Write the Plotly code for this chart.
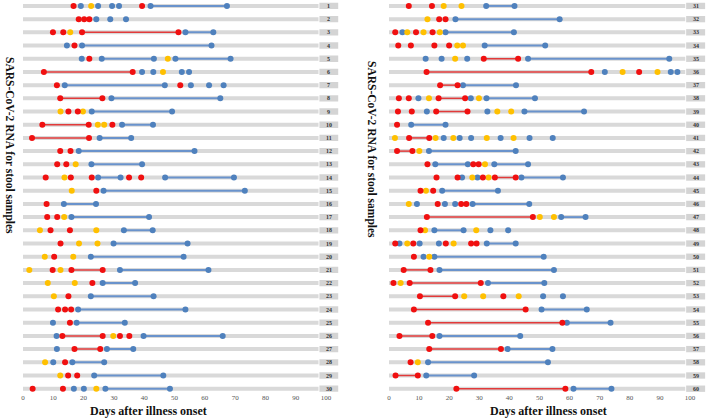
import plotly.graph_objects as go

# ---- data: per patient (1..60) ----
RED = [
    [16.7, 39.3], [18.4, 20.2, 21.9], [9.9, 13.3, 19.5, 51.3], [17.0], [21.9],
    [6.9, 36.2], [11.2, 51.9], [12.3, 26.2], [15.0, 18.1], [6.4, 21.7, 29.5],
    [3.0, 21.8], [12.3, 15.7], [11.3, 14.3], [7.5, 15.8, 22.7, 35.0, 39.0], [24.2],
    [7.8], [8.0, 11.3], [9.1, 15.5], [12.4], [10.3],
    [9.8, 16.0, 26.3], [22.9], [15.0], [11.6, 13.9, 15.9], [15.5],
    [13.0, 26.3, 32.0, 35.1], [17.0, 25.5], [13.9], [14.9, 17.9], [3.2, 13.2],
    [6.6, 14.3], [16.7, 18.8], [2.1, 9.0, 14.5], [3.1, 7.3, 15.1, 20.0], [31.5, 42.9],
    [12.5, 67.2, 83.1], [17.0, 22.8], [3.3, 6.6, 16.5, 25.3], [3.0, 7.6, 15.7, 26.1], [2.7],
    [6.7, 13.4], [2.7, 7.8], [12.8, 28.0, 29.8], [15.8, 22.8, 31.2, 35.2, 42.1], [10.5, 14.7],
    [16.2, 24.0, 25.7], [12.6, 47.8], [10.5], [2.1, 8.1, 18.9, 27.3, 29.1], [8.3],
    [4.9, 13.8], [1.5, 6.9, 30.5], [10.3, 22.0, 38.0], [8.3, 45.4], [13.0, 57.6],
    [3.5, 14.4], [13.4, 37.2], [7.2], [2.2, 9.6], [22.4, 58.6],
]
YELLOW = [
    [22.5], [], [15.6], [], [47.8],
    [46.2], [], [], [12.4, 19.8], [24.7, 26.8],
    [], [], [17.4], [13.7], [16.1],
    [], [13.6], [5.6, 24.2], [18.5, 24.6], [7.2, 16.6],
    [2.1, 12.4], [8.2, 17.1], [10.2], [], [],
    [29.8], [], [7.3], [12.3], [24.2],
    [18.2, 24.1], [12.8], [6.1, 11.5, 16.9], [22.7, 24.6], [22.0],
    [77.6, 89.2], [], [13.3, 29.9], [36.0, 40.6], [],
    [2.0, 15.5, 21.4, 32.5, 41.4], [10.1], [31.9], [27.7, 33.1], [12.3],
    [6.6], [50.1, 54.8], [12.0, 29.0], [6.1, 21.5], [13.4],
    [], [3.9], [25.0, 31.3, 43.1], [], [],
    [], [], [9.6], [], [],
]
BLUE = [
    [19.1, 24.8, 29.4, 31.7, 42.1, 67.3], [24.2, 28.8, 34.0], [53.6, 62.8], [14.5, 19.5, 62.2], [19.4, 26.0, 43.2, 50.3, 68.5],
    [39.3, 43.0, 52.4, 54.8], [13.8, 46.8, 55.4, 61.4, 66.2], [29.2, 65.1], [22.7, 49.2], [32.7, 42.9],
    [25.3, 35.7], [18.4, 56.6], [22.6, 39.3], [24.8, 32.2, 46.9, 69.6], [26.6, 73.2],
    [13.5, 24.1], [16.0, 41.6], [33.3, 42.8], [29.9, 54.3], [22.4, 53.0],
    [32.0, 61.2], [26.3, 37.0], [22.4, 43.1], [18.2, 53.6], [9.9, 17.7, 33.6],
    [11.1, 39.8, 65.9], [11.2, 27.7, 36.4], [10.0, 16.3, 26.8], [23.5, 46.3], [16.8, 20.1, 27.2, 48.5],
    [32.3, 41.7], [22.1, 56.7], [4.5, 18.8, 41.5], [31.8, 51.9], [12.2, 17.5, 26.0, 46.2, 93.1],
    [71.7, 93.6, 95.8], [24.6, 42.2], [9.8, 27.2, 32.4, 48.5], [12.6, 32.7, 45.0, 64.8], [7.4, 18.8],
    [18.2, 23.5, 27.3, 37.1, 46.7, 54.4], [13.3, 42.1], [15.4, 26.2, 35.0, 46.2], [24.3, 29.4, 44.0, 57.8], [17.7, 36.2],
    [9.3, 18.6, 22.0, 27.8, 46.6], [57.2, 65.3], [15.1, 24.8, 33.7, 39.6], [3.5, 10.2, 16.6, 32.5, 42.1], [11.5, 15.1, 51.4],
    [16.8, 54.8], [32.9, 51.6], [51.2, 57.8], [50.7, 65.7], [59.1, 73.6],
    [16.8, 43.6], [39.4, 54.3], [13.0, 52.8], [12.4, 28.3], [61.3, 73.9],
]
RED_SPANS = [
    [], [], [(19.5, 51.3)], [], [],
    [(6.9, 36.2)], [], [(12.3, 26.2)], [], [(6.4, 21.7)],
    [(3.0, 21.8)], [], [], [], [],
    [], [], [], [], [],
    [(16.0, 26.3)], [], [], [], [],
    [(13.0, 26.3)], [(17.0, 25.5)], [], [], [],
    [], [], [], [], [(31.5, 42.9)],
    [(12.5, 67.2)], [(17.0, 22.8)], [(16.5, 25.3)], [(15.7, 26.1)], [],
    [(6.7, 13.4)], [(2.7, 7.8)], [], [(35.2, 42.1)], [],
    [], [(12.6, 47.8)], [], [], [],
    [(4.9, 13.8)], [(6.9, 30.5)], [(10.3, 22.0)], [(8.3, 45.4)], [(13.0, 57.6)],
    [(3.5, 14.4)], [(13.4, 37.2)], [], [(2.2, 9.6)], [(22.4, 58.6)],
]
BLUE_SPANS = [
    [(42.1, 67.3)], [], [(53.6, 62.8)], [(19.5, 62.2)], [(26.0, 43.2), (50.3, 68.5)],
    [], [(13.8, 46.8)], [(29.2, 65.1)], [(22.7, 49.2)], [(32.7, 42.9)],
    [(25.3, 35.7)], [(18.4, 56.6)], [(22.6, 39.3)], [(24.8, 32.2), (46.9, 69.6)], [(26.6, 73.2)],
    [(13.5, 24.1)], [(16.0, 41.6)], [(33.3, 42.8)], [(29.9, 54.3)], [(22.4, 53.0)],
    [(32.0, 61.2)], [(26.3, 37.0)], [(22.4, 43.1)], [(18.2, 53.6)], [(17.7, 33.6)],
    [(39.8, 65.9)], [(27.7, 36.4)], [(16.3, 26.8)], [(23.5, 46.3)], [(27.2, 48.5)],
    [(32.3, 41.7)], [(22.1, 56.7)], [(18.8, 41.5)], [(31.8, 51.9)], [(46.2, 93.1)],
    [], [(24.6, 42.2)], [(32.4, 48.5)], [(45.0, 64.8)], [(7.4, 18.8)],
    [], [(13.3, 42.1)], [(15.4, 26.2), (35.0, 46.2)], [(44.0, 57.8)], [(17.7, 36.2)],
    [(27.8, 46.6)], [(57.2, 65.3)], [(15.1, 24.8)], [(32.5, 42.1)], [(15.1, 51.4)],
    [(16.8, 54.8)], [(32.9, 51.6)], [], [(50.7, 65.7)], [(59.1, 73.6)],
    [(16.8, 43.6)], [(39.4, 54.3)], [(13.0, 52.8)], [(12.4, 28.3)], [(61.3, 73.9)],
]
X_TICKS = [0, 10, 20, 30, 40, 50, 60, 70, 80, 90, 100]
Y_TITLE = "SARS-CoV-2 RNA for stool samples"
X_TITLE = "Days after illness onset"

C_RED = "#f01010"
C_YEL = "#ffc000"
C_BLUE = "#4f81bd"
C_RED_LINE = "#e23a3a"
C_BLUE_LINE = "#6a93cc"
C_BAR = "#d9d9d9"
C_BOX = "#d4d4d4"

fig = go.Figure()
shapes = []
annotations = []

for panel in range(2):
    xa = "x" if panel == 0 else "x2"
    ya = "y" if panel == 0 else "y2"
    rows = range(panel * 30 + 1, panel * 30 + 31)
    bar_end = 97.5 if panel == 0 else 98.4
    box_x0, box_x1 = (97.8, 104.0) if panel == 0 else (98.7, 105.0)
    bx, by = [], []
    rlx, rly, blx, bly = [], [], [], []
    mk = {"r": ([], []), "y": ([], []), "b": ([], [])}
    for p in rows:
        i = p - 1
        bx += [0, bar_end, None]
        by += [p, p, None]
        for a, b in RED_SPANS[i]:
            rlx += [a, b, None]
            rly += [p, p, None]
        for a, b in BLUE_SPANS[i]:
            blx += [a, b, None]
            bly += [p, p, None]
        for v in RED[i]:
            mk["r"][0].append(v); mk["r"][1].append(p)
        for v in YELLOW[i]:
            mk["y"][0].append(v); mk["y"][1].append(p)
        for v in BLUE[i]:
            mk["b"][0].append(v); mk["b"][1].append(p)
        shapes.append(dict(type="rect", xref=xa, yref=ya, x0=box_x0, x1=box_x1,
                           y0=p - 0.24, y1=p + 0.24, fillcolor=C_BOX, line_width=0, layer="below"))
        annotations.append(dict(xref=xa, yref=ya, x=(box_x0 + box_x1) / 2, y=p, text=f"<b>{p}</b>",
                                showarrow=False, font=dict(family="Liberation Serif", size=6, color="#333333")))
    fig.add_trace(go.Scatter(x=bx, y=by, mode="lines", line=dict(color=C_BAR, width=4),
                             xaxis=xa, yaxis=ya, hoverinfo="skip", showlegend=False))
    fig.add_trace(go.Scatter(x=blx, y=bly, mode="lines", line=dict(color=C_BLUE_LINE, width=2),
                             xaxis=xa, yaxis=ya, hoverinfo="skip", showlegend=False))
    fig.add_trace(go.Scatter(x=rlx, y=rly, mode="lines", line=dict(color=C_RED_LINE, width=1.5),
                             xaxis=xa, yaxis=ya, hoverinfo="skip", showlegend=False))
    for key, col in (("b", C_BLUE), ("y", C_YEL), ("r", C_RED)):
        fig.add_trace(go.Scatter(x=mk[key][0], y=mk[key][1], mode="markers",
                                 marker=dict(color=col, size=6, line=dict(width=0)),
                                 xaxis=xa, yaxis=ya, showlegend=False))

axis_x_common = dict(range=[0, 106], tickvals=X_TICKS, ticktext=[str(t) for t in X_TICKS],
                     showgrid=False, zeroline=False, showline=False, ticks="",
                     tickfont=dict(family="Liberation Serif", size=7, color="#555555"))
axis_y_common = dict(showgrid=False, zeroline=False, showline=False, showticklabels=False, ticks="",
                     domain=[1 - 392 / 418, 1])

fig.update_layout(
    width=709, height=418,
    margin=dict(l=0, r=0, t=0, b=0),
    paper_bgcolor="white", plot_bgcolor="white",
    xaxis=dict(domain=[21 / 709, (21 + 106 * 3.04) / 709], anchor="y", **axis_x_common),
    xaxis2=dict(domain=[388 / 709, min(1.0, (388 + 106 * 3.02) / 709)], anchor="y2", **axis_x_common),
    yaxis=dict(range=[30.25, 0.55], anchor="x", **axis_y_common),
    yaxis2=dict(range=[60.25, 30.55], anchor="x2", **axis_y_common),
    shapes=shapes,
)

tfont = dict(family="Liberation Serif", size=11.5, color="#111111")
xfont = dict(family="Liberation Serif", size=12, color="#111111")
annotations += [
    dict(xref="paper", yref="paper", x=7 / 709, y=1 - 146 / 418, text=f"<b>{Y_TITLE}</b>",
         textangle=90, showarrow=False, font=tfont, xanchor="center", yanchor="middle"),
    dict(xref="paper", yref="paper", x=371 / 709, y=1 - 150 / 418, text=f"<b>{Y_TITLE}</b>",
         textangle=90, showarrow=False, font=tfont, xanchor="center", yanchor="middle"),
    dict(xref="paper", yref="paper", x=147 / 709, y=1 - 411 / 418, text=f"<b>{X_TITLE}</b>",
         showarrow=False, font=xfont, xanchor="center", yanchor="middle"),
    dict(xref="paper", yref="paper", x=548 / 709, y=1 - 411 / 418, text=f"<b>{X_TITLE}</b>",
         showarrow=False, font=xfont, xanchor="center", yanchor="middle"),
]
fig.update_layout(annotations=annotations)

fig.write_html("out.html", config={"displayModeBar": False},
               post_script="document.body.style.margin='0';document.body.style.padding='0';")
